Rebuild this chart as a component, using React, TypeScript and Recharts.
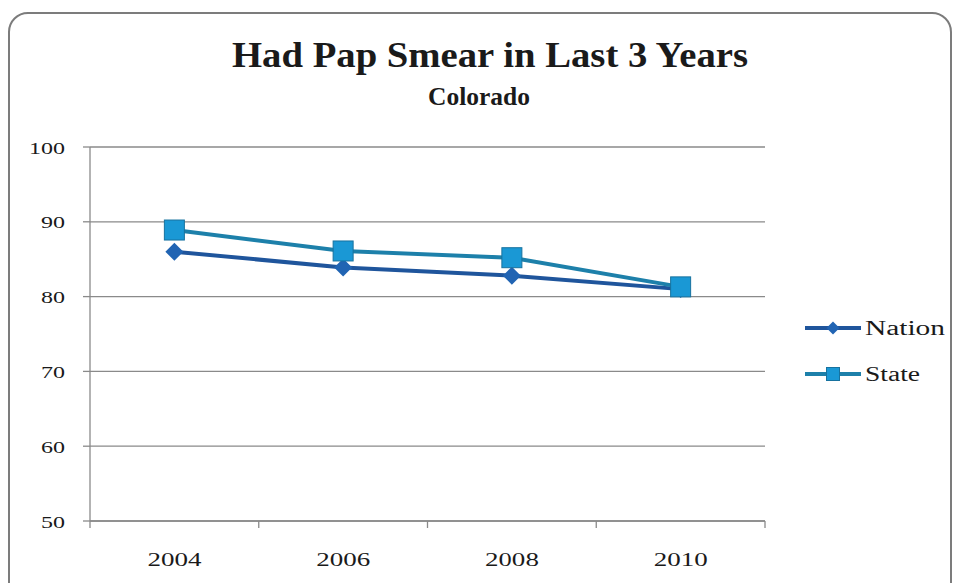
import { CartesianGrid, Line, LineChart, XAxis, YAxis } from "recharts";

const years = ["2004", "2006", "2008", "2010"];
const nation = [86, 83.9, 82.8, 81];
const state = [88.9, 86.1, 85.2, 81.3];
const yTicks = [50, 60, 70, 80, 90, 100];

const data = years.map((year, i) => ({ year, Nation: nation[i], State: state[i] }));

const FONT = '"Liberation Serif", "DejaVu Serif", serif';
const GRID = "#8a8a8a";
const TEXT = "#1a1a1a";
const NATION_LINE = "#1f559c";
const NATION_DOT = "#2164b3";
const STATE_LINE = "#1d80aa";
const STATE_DOT = "#1a98d5";
const STATE_EDGE = "#17729f";
const PLOT_BOTTOM = 521;

const Diamond = ({ cx, cy, r = 9 }: any) => (
  <polygon points={`${cx},${cy - r} ${cx + r},${cy} ${cx},${cy + r} ${cx - r},${cy}`} fill={NATION_DOT} />
);

const Square = ({ cx, cy, r = 10 }: any) => (
  <rect x={cx - r} y={cy - r} width={r * 2} height={r * 2} fill={STATE_DOT} stroke={STATE_EDGE} strokeWidth={1} />
);

const XTick = ({ x, payload, index }: any) => {
  const off = payload.offset ?? 84.4;
  const label = String(payload.value);
  return (
    <g>
      <line x1={x - off} x2={x - off} y1={PLOT_BOTTOM} y2={PLOT_BOTTOM + 7} stroke={GRID} strokeWidth={1.3} />
      {index === years.length - 1 && <line x1={x + off} x2={x + off} y1={PLOT_BOTTOM} y2={PLOT_BOTTOM + 7} stroke={GRID} strokeWidth={1.3} />}
      <text x={x} y={566} textAnchor="middle" fontFamily={FONT} fontSize={19} fill={TEXT}
        textLength={label.length * 13.5} lengthAdjust="spacingAndGlyphs">{label}</text>
    </g>
  );
};

const YTick = ({ y, payload }: any) => {
  const label = String(payload.value);
  return (
    <text x={65} y={y + 6.5} textAnchor="end" fontFamily={FONT} fontSize={17} fill={TEXT}
      textLength={label.length * 12} lengthAdjust="spacingAndGlyphs">{label}</text>
  );
};

const legendItems = [
  { name: "Nation", line: NATION_LINE, Mark: Diamond, width: 80 },
  { name: "State", line: STATE_LINE, Mark: Square, width: 55 },
];

const LegendBox = () => (
  <svg width={160} height={100} style={{ position: "absolute", left: 800, top: 305 }}>
    {legendItems.map(({ name, line, Mark, width }, i) => (
      <g key={name} transform={`translate(0, ${23 + i * 46})`}>
        <line x1={5} x2={61} y1={0} y2={0} stroke={line} strokeWidth={4} />
        <Mark cx={33} cy={0} r={6.5} />
        <text x={65} y={7} fontFamily={FONT} fontSize={20} fill={TEXT} textLength={width} lengthAdjust="spacingAndGlyphs">{name}</text>
      </g>
    ))}
  </svg>
);

export default function App() {
  return (
    <div style={{ position: "absolute", left: 0, top: 0, width: 959, height: 583, background: "#fff", overflow: "hidden" }}>
      <div style={{ position: "absolute", left: 8, top: 12, width: 940, height: 600, border: "2.5px solid #7c7c7c", borderRadius: 20 }} />
      <svg width={959} height={130} style={{ position: "absolute", left: 0, top: 0 }}>
        <text x={490} y={67} textAnchor="middle" fontFamily={FONT} fontWeight="bold" fontSize={36} fill={TEXT}
          textLength={516} lengthAdjust="spacingAndGlyphs">Had Pap Smear in Last 3 Years</text>
        <text x={479} y={105} textAnchor="middle" fontFamily={FONT} fontWeight="bold" fontSize={25} fill={TEXT}
          textLength={102} lengthAdjust="spacingAndGlyphs">Colorado</text>
      </svg>
      <LineChart width={959} height={583} data={data} margin={{ top: 147, right: 194, bottom: 0, left: 0 }} style={{ position: "absolute", left: 0, top: 0 }}>
        <CartesianGrid vertical={false} stroke={GRID} strokeWidth={1.3} />
        <XAxis dataKey="year" scale="band" height={62} axisLine={{ stroke: GRID, strokeWidth: 1.3 }} tickLine={false} tick={<XTick />} interval={0} />
        <YAxis domain={[50, 100]} ticks={yTicks} width={90} tickSize={7}
          axisLine={{ stroke: GRID, strokeWidth: 1.3 }} tickLine={{ stroke: GRID, strokeWidth: 1.3 }} tick={<YTick />} />
        <Line dataKey="Nation" stroke={NATION_LINE} strokeWidth={4} isAnimationActive={false}
          dot={(p: any) => <Diamond key={`n${p.index}`} cx={p.cx} cy={p.cy} />} activeDot={false} />
        <Line dataKey="State" stroke={STATE_LINE} strokeWidth={4} isAnimationActive={false}
          dot={(p: any) => <Square key={`s${p.index}`} cx={p.cx} cy={p.cy} />} activeDot={false} />
      </LineChart>
      <LegendBox />
    </div>
  );
}
